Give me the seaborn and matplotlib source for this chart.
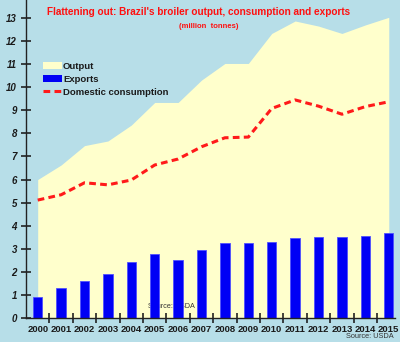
import numpy as np
import pandas as pd
import matplotlib
matplotlib.use("Agg")
import matplotlib.pyplot as plt
import seaborn as sns
from matplotlib.patches import Patch
from matplotlib.lines import Line2D

years = ["2000", "2001", "2002", "2003", "2004", "2005", "2006", "2007",
         "2008", "2009", "2010", "2011", "2012", "2013", "2014", "2015"]
output = [6.0, 6.63, 7.47, 7.67, 8.36, 9.34, 9.34, 10.31,
          11.03, 11.03, 12.33, 12.87, 12.65, 12.33, 12.7, 13.03]
consumption = [5.11, 5.34, 5.86, 5.77, 5.98, 6.63, 6.89, 7.42,
               7.81, 7.84, 9.08, 9.45, 9.18, 8.83, 9.16, 9.37]
exports = [0.90, 1.29, 1.60, 1.92, 2.44, 2.76, 2.53, 2.95,
           3.26, 3.24, 3.29, 3.45, 3.52, 3.50, 3.57, 3.67]
y_ticks = list(range(0, 14))

BG = "#B7DEE8"
FILL = "#FFFFCC"
BLUE = "#0000F5"
RED = "#FF1A1A"
DARK = "#1A1A1A"
TICK = "#222222"

sns.set_theme(style="ticks")
plt.rcParams["font.family"] = ["Liberation Sans", "DejaVu Sans"]

df = pd.DataFrame({"year": years, "output": output,
                   "consumption": consumption, "exports": exports})
pos = np.arange(len(years))

fig = plt.figure(figsize=(4.0, 3.42), dpi=100, facecolor=BG)
ax = fig.add_axes([26 / 400, 1 - 318 / 342, (394.6 - 26) / 400, 318 / 342])
ax.set_facecolor(BG)

ax.fill_between(pos, 0, df["output"], color=FILL, lw=0, zorder=1)
ax.text(5.73, 0.52, "Source: USDA", fontsize=5.2, color="#333333",
        ha="center", va="center", zorder=1.5)
sns.barplot(data=df, x="year", y="exports", color=BLUE, saturation=1,
            width=0.4, edgecolor="#5050FF", linewidth=0.6, ax=ax, zorder=2)
ax.plot(pos, df["consumption"], color=RED, lw=2.2, ls=(0, (2.2, 1.4)), zorder=3)

# tick marks between categories on the x axis
ax.plot(pos[:-1] + 0.5, np.zeros(len(pos) - 1), ls="none", marker="|",
        ms=7, mew=1.2, color=TICK, clip_on=False, zorder=5)

ax.set_xlim(-0.5, 15.25)
ax.set_ylim(0, 13.78)
ax.set_xlabel("")
ax.set_ylabel("")

for s in ["top", "right"]:
    ax.spines[s].set_visible(False)
for s in ["left", "bottom"]:
    ax.spines[s].set_color(TICK)
    ax.spines[s].set_linewidth(1.0)

ax.set_yticks(y_ticks)
ax.set_yticklabels([str(v) for v in y_ticks], fontsize=7, fontweight="bold",
                   fontstyle="italic", color=DARK)
ax.set_xticks(pos)
ax.set_xticklabels(years, fontsize=6.8, fontweight="bold", color=DARK)

ax.tick_params(axis="y", which="major", direction="inout", length=7, width=1.2,
               color=TICK, pad=3)
ax.tick_params(axis="x", which="major", length=0, pad=5)

handles = [Patch(facecolor=FILL, edgecolor="none"),
           Patch(facecolor=BLUE, edgecolor="none"),
           Line2D([0], [0], color=RED, lw=2.2, ls=(0, (2.2, 1.4)))]
labels = ["Output", "Exports", "Domestic consumption"]
leg = ax.legend(handles, labels, loc="upper left", bbox_to_anchor=(0.035, 0.817),
                frameon=False, fontsize=6.8, handlelength=2.0, handleheight=0.8,
                handletextpad=0.15, labelspacing=0.4, borderaxespad=0)
for t in leg.get_texts():
    t.set_fontweight("bold")
    t.set_color(DARK)

fig.text(198.5 / 400, 1 - 12 / 342,
         "Flattening out: Brazil's broiler output, consumption and exports",
         fontsize=7.2, fontweight="bold", color="#FF1010", ha="center", va="center")
fig.text(208.5 / 400, 1 - 26 / 342, "(million  tonnes)", fontsize=5.5,
         fontweight="bold", color="#FF1010", ha="center", va="center")
fig.text(394 / 400, 1 - 336.5 / 342, "Source: USDA", fontsize=5.3,
         color="#333333", ha="right", va="center")

fig.savefig("out.png", dpi=100, facecolor=BG)
